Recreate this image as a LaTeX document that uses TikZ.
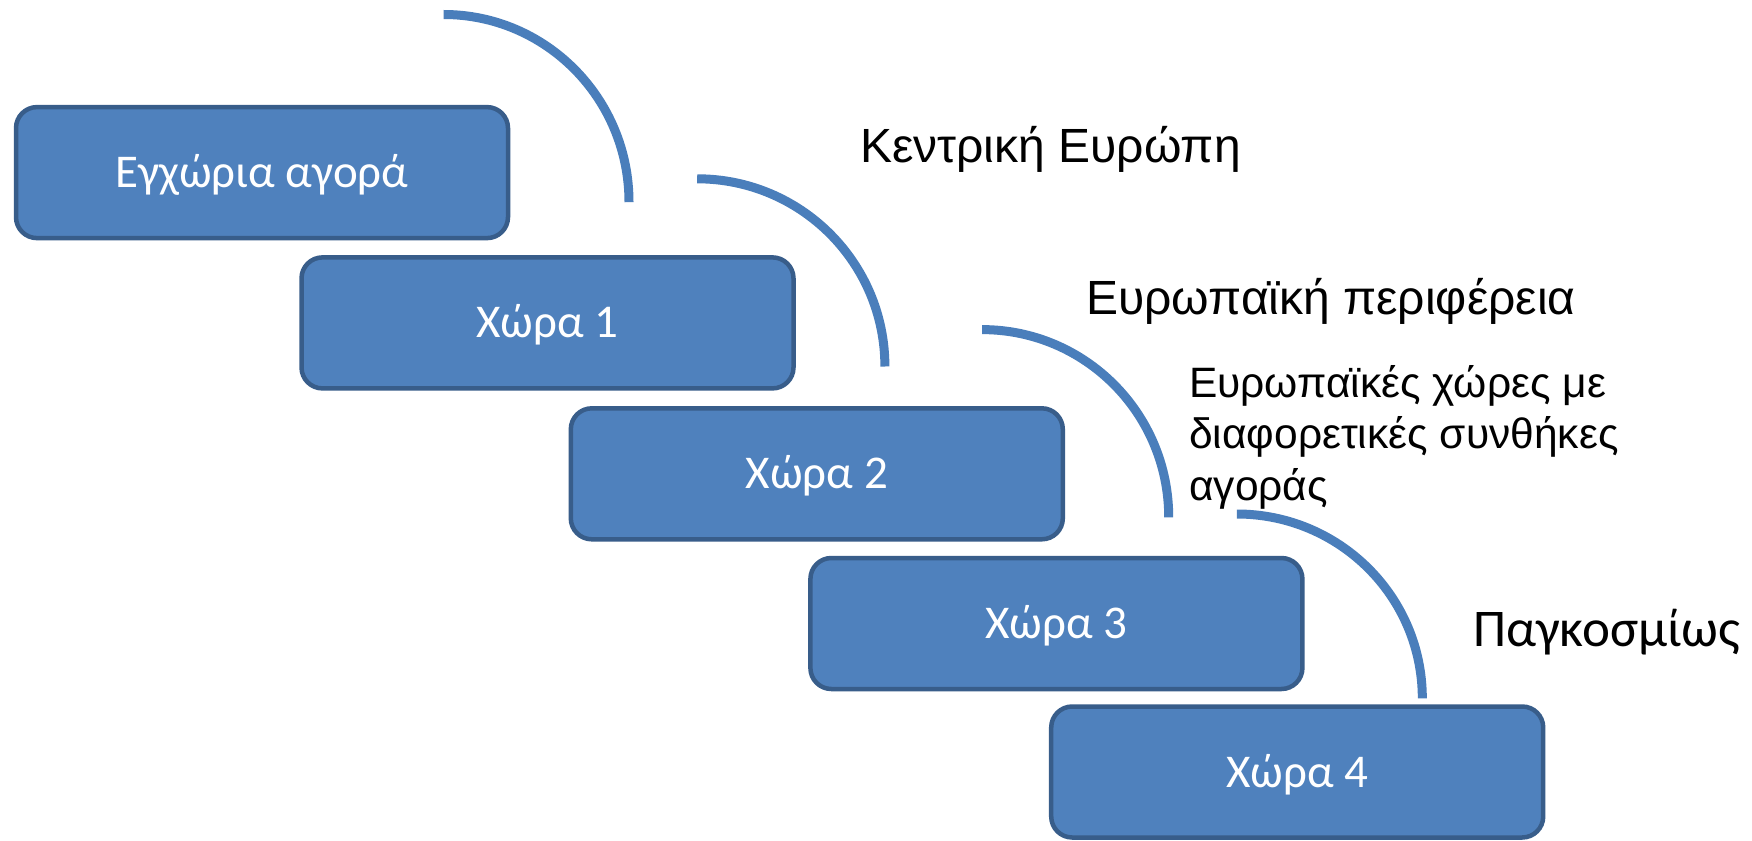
\documentclass[tikz,border=0pt]{standalone}
\usepackage{fontspec}
\setmainfont{Liberation Sans}
\newfontfamily\boxfont{Carlito}
\definecolor{boxfill}{HTML}{4F81BD}
\definecolor{boxline}{HTML}{385D8A}
\definecolor{arccol}{HTML}{4A7EBB}
\begin{document}
\begin{tikzpicture}[x=1pt,y=-1pt,
  stepbox/.style={draw=boxline, line width=4.5pt, fill=boxfill, rounded corners=21pt,
    minimum width=492pt, minimum height=131pt, inner sep=0pt, text=white,
    text height=30pt, text depth=0pt,
    font=\boxfont\fontsize{47}{56}\selectfont},
  arcline/.style={draw=arccol, line width=9pt},
  sidelabel/.style={inner sep=0pt, text=black, font=\fontsize{48}{56}\selectfont},
]
\useasboundingbox (0,0) rectangle (1752,840);
\fill[white] (0,0) rectangle (1752,840);

% boxes
\node[stepbox] (b0) at (262,172.6) {Εγχώρια αγορά};
\node[stepbox] (b1) at (547.5,322.9) {Χώρα 1};
\node[stepbox] (b2) at (816.8,473.8) {Χώρα 2};
\node[stepbox] (b3) at (1056.4,623.5) {Χώρα 3};
\node[stepbox] (b4) at (1297.2,772) {Χώρα 4};

% arc end points
\coordinate (a1s) at (443.6,14.5);  \coordinate (a1e) at (629,202.2);
\coordinate (a2s) at (697.2,178.8); \coordinate (a2e) at (884.9,366.5);
\coordinate (a3s) at (982.1,329.6); \coordinate (a3e) at (1168.7,517.3);
\coordinate (a4s) at (1236.8,514);  \coordinate (a4e) at (1422.3,698.3);

\draw[arcline] (a1s) .. controls (546.0,14.5) and (629,98.5) .. (a1e);
\draw[arcline] (a2s) .. controls (800.9,178.8) and (884.9,262.8) .. (a2e);
\draw[arcline] (a3s) .. controls (1085.2,329.6) and (1168.7,413.6) .. (a3e);
\draw[arcline] (a4s) .. controls (1339.2,514) and (1422.3,596.5) .. (a4e);

% labels
\node[sidelabel, anchor=base west] (l1) at (860,162) {Κεντρική Ευρώπη};
\node[sidelabel, anchor=base west] (l2) at (1086,314) {Ευρωπαϊκή περιφέρεια};
\node[sidelabel, anchor=west, align=left, font=\fontsize{42.5}{51.5}\selectfont] (l3) at (1189,437)
  {Ευρωπαϊκές χώρες με\\διαφορετικές συνθήκες\\αγοράς};
\node[sidelabel, anchor=base west, font=\boxfont\fontsize{53}{60}\selectfont] (l4) at (1473,646) {Παγκοσμίως};
\end{tikzpicture}
\end{document}
